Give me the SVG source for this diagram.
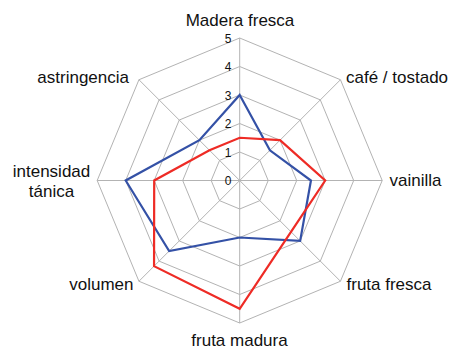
<svg xmlns="http://www.w3.org/2000/svg" width="449" height="349" viewBox="0 0 449 349">
<style>
.grid{fill:none;stroke:#b3b3b3;stroke-width:1}
.lbl{font-family:"Liberation Sans",Arial,sans-serif;font-size:17px;fill:#111}
.num{font-family:"Liberation Sans",Arial,sans-serif;font-size:12px;fill:#111;text-anchor:end}
.s{fill:none;stroke-width:2.2;stroke-linejoin:miter}
</style>
<rect width="449" height="349" fill="#fff"/>
<g id="grid">
<polygon class="grid" points="239.7,152 259.85,160.35 268.2,180.5 259.85,200.65 239.7,209 219.55,200.65 211.2,180.5 219.55,160.35"/>
<polygon class="grid" points="239.7,123.5 280.01,140.19 296.7,180.5 280.01,220.81 239.7,237.5 199.39,220.81 182.7,180.5 199.39,140.19"/>
<polygon class="grid" points="239.7,95 300.16,120.04 325.2,180.5 300.16,240.96 239.7,266 179.24,240.96 154.2,180.5 179.24,120.04"/>
<polygon class="grid" points="239.7,66.5 320.31,99.89 353.7,180.5 320.31,261.11 239.7,294.5 159.09,261.11 125.7,180.5 159.09,99.89"/>
<polygon class="grid" points="239.7,38 340.46,79.74 382.2,180.5 340.46,281.26 239.7,323 138.94,281.26 97.2,180.5 138.94,79.74"/>
<path class="grid" d="M239.7,180.5L239.7,38M239.7,180.5L340.46,79.74M239.7,180.5L382.2,180.5M239.7,180.5L340.46,281.26M239.7,180.5L239.7,323M239.7,180.5L138.94,281.26M239.7,180.5L97.2,180.5M239.7,180.5L138.94,79.74"/>
</g>
<g id="scale">
<text class="num" x="231.5" y="185">0</text>
<text class="num" x="231.5" y="156.5">1</text>
<text class="num" x="231.5" y="128">2</text>
<text class="num" x="231.5" y="99.5">3</text>
<text class="num" x="231.5" y="71">4</text>
<text class="num" x="231.5" y="42.5">5</text>
</g>
<g id="series">
<polygon id="blue" class="s" stroke="#3451a6" points="239.7,95 269.93,150.27 310.95,180.5 300.16,240.96 239.7,237.5 169.16,251.04 125.7,180.5 199.39,140.19"/>
<polygon id="red" class="s" stroke="#ee2b25" points="239.7,137.75 280.01,140.19 325.2,180.5 291.0,231.8 239.7,308.75 154.05,266.15 154.2,180.5 209.47,150.27"/>
</g>
<g id="labels">
<text class="lbl" x="240" y="26" text-anchor="middle">Madera fresca</text>
<text class="lbl" x="346" y="83">café / tostado</text>
<text class="lbl" x="389.5" y="186">vainilla</text>
<text class="lbl" x="346.5" y="290">fruta fresca</text>
<text class="lbl" x="239.5" y="346" text-anchor="middle">fruta madura</text>
<text class="lbl" x="133.5" y="290" text-anchor="end">volumen</text>
<text class="lbl" x="51.5" y="177" text-anchor="middle">intensidad</text>
<text class="lbl" x="51.5" y="197" text-anchor="middle">tánica</text>
<text class="lbl" x="129" y="83" text-anchor="end">astringencia</text>
</g>
</svg>
